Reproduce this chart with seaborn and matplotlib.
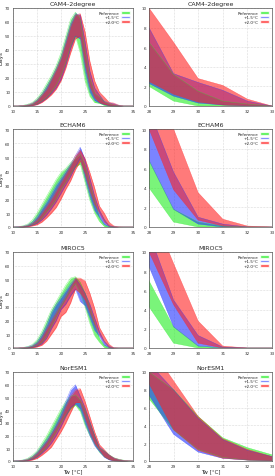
import numpy as np
import pandas as pd
import matplotlib
matplotlib.use("Agg")
import matplotlib.pyplot as plt
import seaborn as sns
from matplotlib.patches import Patch

temps = list(range(10, 36))
models = ["CAM4-2degree", "ECHAM6", "MIROC5", "NorESM1"]
scenarios = ["Reference", "+1.5°C", "+2.0°C"]
colors = ["#22ee22", "#2233ff", "#ff2222"]

# CAM4-2degree
cam_ref_lo = [0,0,0,0.2,0.6,1.5,3.5,6,10,15,22,31,43,50,38,18,7,2.5,2,0.5,0,0,0,0,0,0]
cam_ref_hi = [0,0,0.4,1.2,2.5,5.5,10,16,22,29,38,50,62,67,62,40,20,9,6.5,3.2,1.5,0.5,0.2,0,0,0]
cam_15_lo = [0,0,0,0.1,0.4,1.2,3,5.5,9,13,19,29,41,50,48,25,10,4,2.3,1,0.3,0.1,0,0,0,0]
cam_15_hi = [0,0,0.3,0.8,2,4.5,8.5,14,20,27,35,47,59,66,65,46,25,13,8,3.3,2.4,1.6,0.5,0,0,0]
cam_20_lo = [0,0,0,0.1,0.3,1,2.5,5,8,12,18,27,38,48,50,30,14,6,2.5,1.2,0.4,0.1,0,0,0,0]
cam_20_hi = [0,0,0.2,0.7,1.7,4,8,12,19,26,34,45,57,65,66,53,32,18,10,6.5,2.8,2.1,0.7,0,0,0]

# ECHAM6
ech_ref_lo = [0,0,0.1,0.6,1.5,3,6.5,11,15,20,27,32,38,43,45,32,19,10,4,0.5,0,0,0,0,0,0]
ech_ref_hi = [0,0.3,0.8,2,5,10,16,22,28,34,39,42,46,49,52,44,31,19,6.8,1.8,0.5,0.1,0,0,0,0]
ech_15_lo = [0,0,0.1,0.4,1.2,2.5,5,8.5,13,18,24,30,36,43,49,35,22,12,6.8,1.8,0.3,0,0,0,0,0]
ech_15_hi = [0,0.2,0.5,1.5,3.5,7.5,13,18,24,30,35,40,45,51,57,48,35,22,12,5.6,1,0.3,0,0,0,0]
ech_20_lo = [0,0,0,0.2,0.8,1.6,3.5,6.5,10,14,20,27,33,41,47,38,26,16,10,3.8,0.7,0.1,0,0,0,0]
ech_20_hi = [0,0,0.4,1,2.5,5.5,10,15,20,26,32,38,44,51,55,49,39,28,15,10,3.5,0.8,0.1,0,0,0]

# MIROC5
mir_ref_lo = [0,0,0,0.2,0.6,1.5,4,9,16,23,30,36,42,47,40,30,18,9,4.3,0.5,0,0,0,0,0,0]
mir_ref_hi = [0,0,0.4,1,2.5,6,12,20,28,34,40,46,51,52,48,40,30,18,7,2.2,0.2,0,0,0,0,0]
mir_15_lo = [0,0,0,0.1,0.4,1.2,3,7,14,20,28,32,38,43,34,31,22,13,8.5,2.2,0.2,0,0,0,0,0]
mir_15_hi = [0,0,0.3,0.8,2,4.5,10,17,26,32,37,42,47,51,46,40,32,22,12,5,1.3,0.1,0,0,0,0]
mir_20_lo = [0,0,0,0,0.2,0.8,2,5,10,15,23,26,33,43,40,35,26,17,10,4.5,0.5,0,0,0,0,0]
mir_20_hi = [0,0,0.2,0.5,1.3,3.2,7.5,14,20,26,32,38,45,51,51,49,40,29,15,8.8,2.8,0.2,0,0,0,0]

# NorESM1
nor_ref_lo = [0,0,0.2,0.6,1.5,3.5,7,11,17,23,30,36,41,44,39,28,20,13,7,3.5,1.3,0.4,0.1,0,0,0]
nor_ref_hi = [0,0.3,0.8,2,4.5,8,14,20,27,34,41,47,51,52,48,40,30,20,10,8,5,2.6,1.5,0.7,0.2,0]
nor_15_lo = [0,0,0.1,0.4,1.2,3,6,9.5,14,20,27,35,42,45,41,30,20,12,7.4,3,1,0.3,0.1,0,0,0]
nor_15_hi = [0,0.2,0.6,1.5,3.5,7,12,17,23,30,38,47,56,60,51,42,31,20,11,8,4.8,2.4,1.2,0.5,0.1,0]
nor_20_lo = [0,0,0,0.2,0.8,2,4.5,7.5,11,17,23,30,38,46,46,34,23,14,8.7,3.5,1.2,0.3,0.1,0,0,0]
nor_20_hi = [0,0,0.4,1.2,3,6,10.5,15,21,27,34,43,51,56,57,47,35,23,13,9,5,2.5,1.3,0.5,0.1,0]

bands = {
    "CAM4-2degree": [(cam_ref_lo, cam_ref_hi), (cam_15_lo, cam_15_hi), (cam_20_lo, cam_20_hi)],
    "ECHAM6": [(ech_ref_lo, ech_ref_hi), (ech_15_lo, ech_15_hi), (ech_20_lo, ech_20_hi)],
    "MIROC5": [(mir_ref_lo, mir_ref_hi), (mir_15_lo, mir_15_hi), (mir_20_lo, mir_20_hi)],
    "NorESM1": [(nor_ref_lo, nor_ref_hi), (nor_15_lo, nor_15_hi), (nor_20_lo, nor_20_hi)],
}

sns.set_theme(style="whitegrid")
plt.rcParams["font.family"] = ["DejaVu Sans"]

W, H = 275, 477
fig = plt.figure(figsize=(W / 100, H / 100), dpi=100)

rows_px = [(9, 107), (130, 228), (253, 349), (373, 462)]
cols_px = [(13, 133), (149, 272)]

for r, model in enumerate(models):
    top, bot = rows_px[r]
    for c in range(2):
        l, rr = cols_px[c]
        ax = fig.add_axes([l / W, 1 - bot / H, (rr - l) / W, (bot - top) / H])
        for (lo, hi), col, name in zip(bands[model], colors, scenarios):
            df = pd.DataFrame({"T": temps, "lo": lo, "hi": hi})
            ax.fill_between(df["T"], df["lo"], df["hi"], color=col, alpha=0.6, linewidth=0)
            sns.lineplot(data=df, x="T", y="hi", ax=ax, color=col, alpha=0.6, linewidth=0.3, legend=False)
            sns.lineplot(data=df, x="T", y="lo", ax=ax, color=col, alpha=0.6, linewidth=0.3, legend=False)
        if c == 0:
            ax.set_xlim(10, 35)
            ax.set_ylim(0, 70)
            ax.set_xticks([10, 15, 20, 25, 30, 35])
            ax.set_yticks(range(0, 71, 10))
            ax.set_ylabel("Days", fontsize=4, labelpad=1)
        else:
            ax.set_xlim(28, 33)
            ax.set_ylim(0, 10)
            ax.set_xticks(range(28, 34))
            ax.set_yticks(range(0, 11, 2))
            ax.set_ylabel("")
        if r == 3:
            ax.set_xlabel("Tw [°C]", fontsize=4, labelpad=0.3)
        else:
            ax.set_xlabel("")
        ax.set_title(model, fontsize=4.5, pad=2)
        ax.tick_params(labelsize=3, pad=1, length=1, width=0.4, colors="#333333")
        ax.grid(True, linestyle=":", linewidth=0.4, color="#bbbbbb")
        for s in ax.spines.values():
            s.set_color("#555555")
            s.set_linewidth(0.5)
        handles = [Patch(facecolor=col, alpha=0.8) for col in colors]
        ax.legend(handles, scenarios, loc="upper right", fontsize=3, frameon=False,
                  markerfirst=False, handlelength=2.2, handleheight=0.6,
                  handletextpad=0.4, labelspacing=0.1, borderaxespad=0.3)

fig.savefig("out.png", dpi=100)
